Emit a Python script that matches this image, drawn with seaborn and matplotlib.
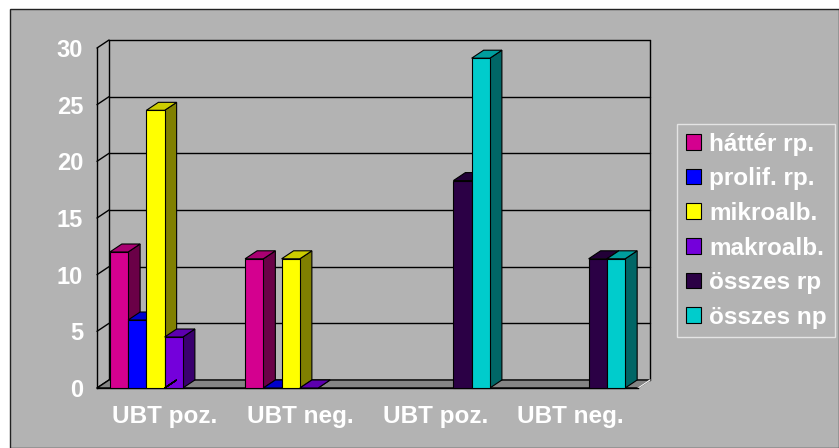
import numpy as np
import pandas as pd
import matplotlib
matplotlib.use("Agg")
import matplotlib.pyplot as plt
from matplotlib.patches import Polygon, Rectangle
import seaborn as sns

# ---- data -------------------------------------------------------------
categories = ["UBT poz.", "UBT neg.", "UBT poz.", "UBT neg."]
series = ["háttér rp.", "prolif. rp.", "mikroalb.", "makroalb.", "összes rp", "összes np"]
hatter_rp = [12.0, 11.4, np.nan, np.nan]
prolif_rp = [6.0, 0.0, np.nan, np.nan]
mikroalb = [24.5, 11.4, np.nan, np.nan]
makroalb = [4.5, 0.0, np.nan, np.nan]
osszes_rp = [np.nan, np.nan, 18.3, 11.4]
osszes_np = [np.nan, np.nan, 29.1, 11.4]
y_ticks = [0, 5, 10, 15, 20, 25, 30]

front_colors = ["#D4008F", "#0000FF", "#FFFF00", "#7400DB", "#2B0045", "#00CCCC"]
side_colors = ["#6A0047", "#000080", "#808000", "#3A006E", "#160023", "#006666"]
top_colors = ["#AA0072", "#0000CC", "#CCCC00", "#5D00AF", "#220037", "#009E9E"]

values = [hatter_rp, prolif_rp, mikroalb, makroalb, osszes_rp, osszes_np]
rows = []
for name, vals in zip(series, values):
    for slot, v in enumerate(vals):
        rows.append({"slot": slot, "series": name, "value": v})
df = pd.DataFrame(rows).dropna()

# ---- figure -----------------------------------------------------------
W, H, DPI = 839, 448, 100
sns.set_theme(style="white")
plt.rcParams["font.family"] = ["Liberation Sans", "DejaVu Sans"]

fig = plt.figure(figsize=(W / DPI, H / DPI), dpi=DPI, facecolor="white")
BG = "#B3B3B3"
fig.patches.append(Rectangle((10 / W, 0), 1 - 10 / W, 1 - 9 / H, transform=fig.transFigure,
                             facecolor=BG, edgecolor="#222222", linewidth=1.0, zorder=-10))

# front plane of the plot area (pixels)
x0, x1, yb, yt = 97, 638, 388, 48
ax = fig.add_axes([x0 / W, (H - yb) / H, (x1 - x0) / W, (yb - yt) / H])
ax.set_facecolor("none")

sns.barplot(data=df, x="slot", y="value", hue="series", order=[0, 1, 2, 3],
            hue_order=series, palette=front_colors, width=0.81, errorbar=None,
            edgecolor="black", linewidth=0.8, saturation=1, ax=ax)

ax.set_xlim(-0.5, 3.5)
ax.set_ylim(0, 30)

# depth of the pseudo-3D box, pixels -> data units
DX_PX, DY_PX = 12, 8
dx = DX_PX / ((x1 - x0) / 4)
dy = DY_PX / ((yb - yt) / 30)

# back wall, side wall and floor
for v in y_ticks:
    ax.plot([-0.5 + dx, 3.5 + dx], [v + dy, v + dy], color="black", lw=1.0,
            clip_on=False, zorder=1)
    ax.plot([-0.5, -0.5 + dx], [v, v + dy], color="black", lw=1.0, clip_on=False, zorder=1)
ax.plot([-0.5 + dx, -0.5 + dx], [dy, 30 + dy], color="black", lw=1.0, clip_on=False, zorder=1)
ax.plot([3.5 + dx, 3.5 + dx], [dy, 30 + dy], color="black", lw=1.0, clip_on=False, zorder=1)
floor = Polygon([(-0.5, 0), (3.5, 0), (3.5 + dx, dy), (-0.5 + dx, dy)], closed=True,
                facecolor="#858585", edgecolor="black", lw=1.0, clip_on=False, zorder=1.5)
ax.add_patch(floor)
ax.plot([3.5, 3.5 + dx], [0, dy], color="#EEEEEE", lw=1.0, clip_on=False, zorder=1.6)

# extrude every bar: side and top faces, ordered left to right
bars = [p for p in ax.patches if isinstance(p, Rectangle) and p.get_width() < 0.5]
bars.sort(key=lambda p: p.get_x())
for i, p in enumerate(bars):
    fc = matplotlib.colors.to_hex(p.get_facecolor())
    k = [c.lower() for c in front_colors].index(fc.lower())
    bx0, bw, h = p.get_x(), p.get_width(), p.get_height()
    bx1 = bx0 + bw
    z = 3 + 0.01 * i
    p.set_zorder(z)
    p.set_clip_on(False)
    side = Polygon([(bx1, 0), (bx1, h), (bx1 + dx, h + dy), (bx1 + dx, dy)], closed=True,
                   facecolor=side_colors[k], edgecolor="black", lw=0.8, clip_on=False,
                   zorder=z - 0.001)
    top = Polygon([(bx0, h), (bx1, h), (bx1 + dx, h + dy), (bx0 + dx, h + dy)], closed=True,
                  facecolor=top_colors[k], edgecolor="black", lw=0.8, clip_on=False,
                  zorder=z - 0.001)
    ax.add_patch(side)
    ax.add_patch(top)

# axes, ticks and labels
for s in ["top", "right"]:
    ax.spines[s].set_visible(False)
for s in ["left", "bottom"]:
    ax.spines[s].set_color("black")
    ax.spines[s].set_linewidth(1.0)
    ax.spines[s].set_zorder(2)
ax.set_yticks(y_ticks)
ax.set_yticklabels([str(v) for v in y_ticks])
ax.tick_params(axis="y", direction="out", length=4, width=1, color="black", pad=6,
               labelcolor="white", labelsize=17)
ax.set_xticks([-0.5, 0.5, 1.5, 2.5, 3.5])
ax.set_xticklabels([""] * 5)
ax.tick_params(axis="x", which="major", direction="out", length=5, width=1, color="black")
ax.set_xticks([0, 1, 2, 3], minor=True)
ax.set_xticklabels(categories, minor=True)
ax.tick_params(axis="x", which="minor", length=0, pad=12, labelcolor="white", labelsize=17.5)
for lab in ax.get_yticklabels() + ax.get_xticklabels(minor=True):
    lab.set_fontweight("bold")
ax.set_xlabel("")
ax.set_ylabel("")
ax.grid(False)

# legend
leg = ax.get_legend()
handles = leg.legend_handles
labels = [t.get_text() for t in leg.texts]
leg.remove()
for hnd in handles:
    hnd.set_edgecolor("black")
    hnd.set_linewidth(0.8)
fl = fig.legend(handles, labels, loc="upper left", bbox_to_anchor=(677 / W, 1 - 124 / H),
                borderaxespad=0, frameon=True, fancybox=False, framealpha=1,
                facecolor="none", edgecolor="#E4E4E4", prop={"size": 17.5, "weight": "bold"},
                handlelength=0.62, handleheight=0.62, handletextpad=0.35,
                labelspacing=0.48, borderpad=0.35)
fl.get_frame().set_linewidth(1.0)
for t in fl.get_texts():
    t.set_color("white")

fig.savefig("out.png", dpi=DPI, facecolor="white")
